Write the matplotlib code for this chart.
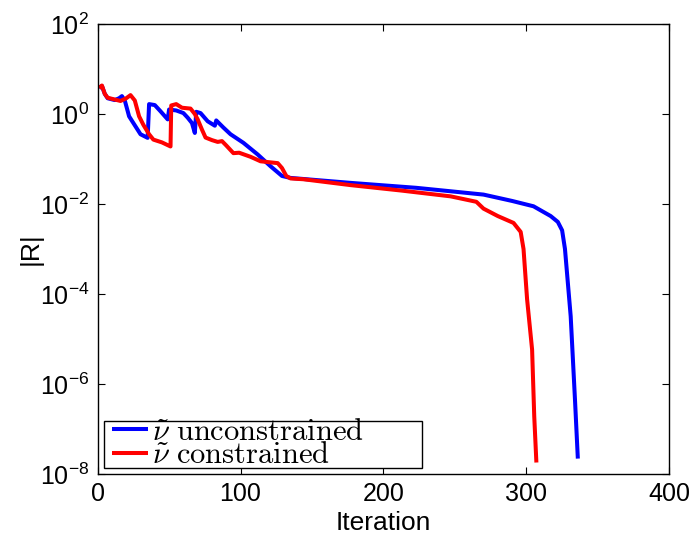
import matplotlib
matplotlib.use("Agg")
import matplotlib.pyplot as plt
from matplotlib.ticker import NullLocator, LogFormatterSciNotation
from matplotlib.font_manager import FontProperties
from matplotlib.patches import Rectangle

plt.rcParams['font.family'] = ['Liberation Sans', 'DejaVu Sans']
plt.rcParams['mathtext.fontset'] = 'custom'
plt.rcParams['mathtext.rm'] = 'Liberation Sans'
plt.rcParams['mathtext.it'] = 'Liberation Sans:italic'
plt.rcParams['mathtext.bf'] = 'Liberation Sans:bold'

# Data
iter_unc = [1, 3, 5, 7, 12, 15, 17, 19, 22, 25, 30, 35, 36, 40, 44, 49, 50, 55, 60, 63,
            66, 68, 69, 72, 77, 82, 83, 88, 93, 102, 112, 121, 129, 135, 177, 223, 270,
            290, 305, 317, 322, 325, 327, 331, 334, 336]
r_unc = [3.8, 4.2, 2.8, 2.24, 2.04, 2.24, 2.5, 2.0, 0.89, 0.63, 0.355, 0.295, 1.66, 1.58,
         1.15, 0.76, 1.26, 1.2, 1.05, 0.83, 0.63, 0.38, 1.12, 1.05, 0.69, 0.55, 0.72, 0.5,
         0.355, 0.229, 0.126, 0.069, 0.042, 0.038, 0.0295, 0.0229, 0.0162, 0.0117, 0.0089,
         0.0054, 0.004, 0.0026, 1.0e-3, 3.2e-5, 4.5e-7, 2.2e-8]

iter_con = [1, 3, 5, 7, 12, 16, 20, 23, 26, 29, 32, 36, 39, 45, 51, 51.5, 55, 59, 65, 68,
            70, 73, 75.5, 80, 84, 87, 90, 95, 99, 107, 114, 126, 129, 132, 135, 144, 177,
            212, 247, 265, 270, 280, 291, 296, 298, 300.5, 304, 305.5, 307]
r_con = [3.8, 4.3, 2.8, 2.3, 2.1, 1.95, 2.24, 2.63, 2.0, 0.89, 0.575, 0.355, 0.27, 0.234,
         0.19, 1.55, 1.66, 1.38, 1.32, 1.0, 0.76, 0.45, 0.30, 0.263, 0.24, 0.25, 0.2,
         0.135, 0.138, 0.112, 0.089, 0.081, 0.063, 0.042, 0.037, 0.0355, 0.0263, 0.02,
         0.0148, 0.0112, 0.0079, 0.0054, 0.0038, 0.0024, 1.0e-3, 7.6e-5, 5.8e-6, 1.9e-7,
         1.8e-8]

x_ticks = [0, 100, 200, 300, 400]
y_ticks = [1e-8, 1e-6, 1e-4, 1e-2, 1e0, 1e2]
labels = [r'$\tilde{\nu}\ \mathrm{unconstrained}$', r'$\tilde{\nu}\ \mathrm{constrained}$']

fig = plt.figure(figsize=(6.91, 5.35), dpi=100)
ax = fig.add_axes([0.1413, 0.114, 0.8273, 0.8411])

ax.plot(iter_unc, r_unc, color=(0, 0, 1), lw=2.9, label=labels[0],
        solid_joinstyle='round', solid_capstyle='butt')
ax.plot(iter_con, r_con, color=(1, 0, 0), lw=2.9, label=labels[1],
        solid_joinstyle='round', solid_capstyle='butt')

ax.set_yscale('log')
ax.set_xlim(0, 400)
ax.set_ylim(1e-8, 1e2)
ax.set_xticks(x_ticks)
ax.set_yticks(y_ticks)
ax.yaxis.set_minor_locator(NullLocator())
ax.yaxis.set_major_formatter(LogFormatterSciNotation())
ax.tick_params(direction='in', length=5, width=0.8, labelsize=18, top=True, right=True,
               pad=6)
for s in ax.spines.values():
    s.set_linewidth(1.0)

ax.set_xlabel('Iteration', fontsize=19, labelpad=3)
ax.set_ylabel('|R|', fontsize=19, labelpad=-2)

leg_size = 22
prop = FontProperties(size=leg_size)
prop.set_math_fontfamily('cm')
leg = ax.legend(loc='lower left', bbox_to_anchor=(0.011, -0.009), prop=prop,
                handlelength=1.18, handletextpad=0.15, labelspacing=-0.22,
                borderpad=0.25, borderaxespad=0, frameon=False)
leg.set_zorder(6)

# MATLAB-style legend box: derived from the legend layout (tight vertically, wide on the right)
fig.canvas.draw()
renderer = fig.canvas.get_renderer()
bb = leg.get_window_extent(renderer)
text_x1 = max(t.get_window_extent(renderer).x1 for t in leg.get_texts())
fs_px = leg_size * fig.dpi / 72.0
inv = ax.transAxes.inverted()
(ax0, ay0) = inv.transform((bb.x0, bb.y0 + 0.33 * fs_px))
(ax1, ay1) = inv.transform((text_x1 + 1.9 * fs_px, bb.y1 - 0.39 * fs_px))
ax.add_patch(Rectangle((ax0, ay0), ax1 - ax0, ay1 - ay0, transform=ax.transAxes,
                       facecolor='white', edgecolor='black', lw=1.0, zorder=5.5,
                       clip_on=False))

fig.savefig('out.png', dpi=100)
